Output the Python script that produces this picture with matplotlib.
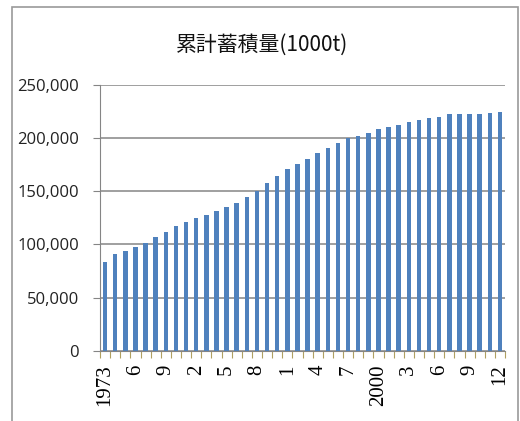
import numpy as np
import matplotlib
matplotlib.use("Agg")
from matplotlib import pyplot as plt
from matplotlib.patches import Rectangle
from matplotlib.ticker import FuncFormatter

years = list(range(1973, 2013))
stock = [
    83700, 90600, 94000, 97800, 101600, 106900, 111900, 117600, 121000, 124800,
    127300, 131400, 135400, 139200, 144200, 150200, 158000, 164600, 170900, 175900,
    180000, 185600, 190300, 195600, 200300, 201900, 204400, 208200, 210700, 212200,
    214700, 216900, 218500, 219800, 222600, 222600, 222600, 222600, 223800, 224800,
]
tick_labels = ["1973", "6", "9", "2", "5", "8", "1", "4", "7", "2000", "3", "6", "9", "12"]
title = "累計蓄積量(1000t)"

plt.rcParams["font.family"] = ["Noto Sans CJK JP", "DejaVu Sans"]

fig = plt.figure(figsize=(5.2, 4.21), dpi=100)
ax = fig.add_axes([100 / 520, 1 - 350.7 / 421, 405 / 520, (350.7 - 84.7) / 421])

# outer chart border like the spreadsheet frame
fig.patches.append(Rectangle((12 / 520, -0.05), 506 / 520, 1.05 - 7 / 421,
                             transform=fig.transFigure, fill=False,
                             edgecolor="#9a9a9a", linewidth=1.2))

x = np.arange(len(years))
ax.bar(x, stock, width=0.45, color="#4f81bd", zorder=3)

ax.set_xlim(-0.5, len(years) - 0.5)
ax.set_ylim(0, 250000)
ax.set_yticks(np.arange(0, 250001, 50000))
ax.yaxis.set_major_formatter(FuncFormatter(lambda v, p: f"{int(v):,}"))
ax.grid(axis="y", color="#858585", linewidth=1.1, zorder=0)

# category boundary ticks, labels every 3 years
ax.set_xticks(np.arange(-0.5, len(years), 1.0), minor=True)
ax.set_xticks(x[::3])
ax.set_xticklabels(tick_labels, rotation=90, family="Liberation Serif", fontsize=15)
ax.tick_params(axis="x", which="major", length=0, pad=10)
ax.tick_params(axis="x", which="minor", length=5, color="#b0a060", width=0.8)
ax.tick_params(axis="y", length=5, color="#858585", labelsize=12, pad=10)
for lab in ax.get_yticklabels():
    lab.set_family("Open Sans")
    lab.set_color("#222222")

for side in ["top", "right"]:
    ax.spines[side].set_visible(False)
for side in ["left", "bottom"]:
    ax.spines[side].set_color("#858585")

fig.text(262 / 520, 1 - 45 / 421, title, ha="center", va="center", fontsize=15,
         color="#111111")

fig.savefig("out.png", dpi=100)
